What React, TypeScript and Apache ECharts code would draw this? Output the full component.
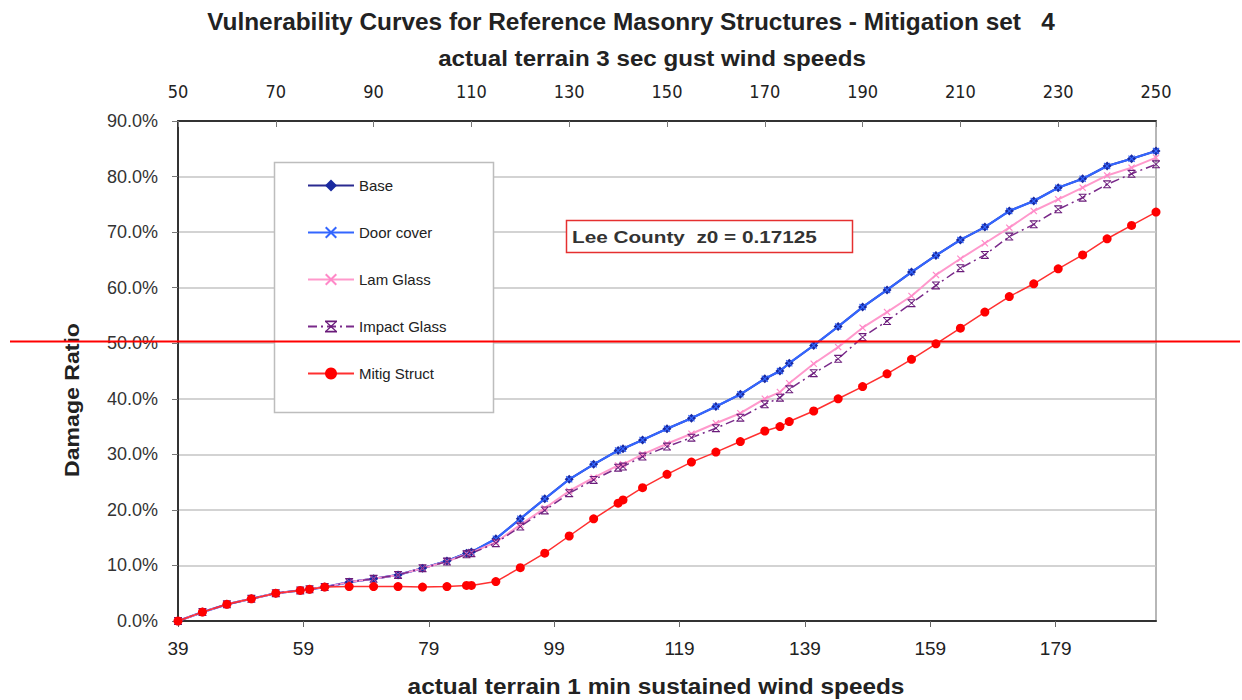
import React, { useEffect, useRef } from "react";
import * as echarts from "echarts";

// gust wind speeds (top axis) at which the curves were evaluated
const gustSpeeds = [50, 55, 60, 65, 70, 75, 76.9, 80, 85, 90, 95, 100, 105, 109, 110, 115, 120, 125, 130, 135, 140, 141, 145, 150, 155, 160, 165, 170, 173.1, 175, 180, 185, 190, 195, 200, 205, 210, 215, 220, 225, 230, 235, 240, 245, 250];

// damage ratio in %
const base = [0, 1.6, 3.0, 4.0, 5.0, 5.5, 5.7, 6.1, 7.0, 7.6, 8.3, 9.5, 10.8, 12.2, 12.4, 14.8, 18.4, 22.0, 25.5, 28.2, 30.7, 31.0, 32.6, 34.6, 36.5, 38.6, 40.8, 43.6, 45.0, 46.4, 49.6, 53.0, 56.5, 59.6, 62.8, 65.8, 68.6, 70.9, 73.8, 75.6, 78.0, 79.6, 81.9, 83.2, 84.6];
const doorCover = [0, 1.6, 3.0, 4.0, 5.0, 5.5, 5.7, 6.1, 7.0, 7.6, 8.3, 9.5, 10.8, 12.2, 12.4, 14.8, 18.4, 22.0, 25.5, 28.2, 30.7, 31.0, 32.6, 34.6, 36.5, 38.6, 40.8, 43.6, 45.0, 46.4, 49.6, 53.0, 56.5, 59.6, 62.8, 65.8, 68.6, 70.9, 73.8, 75.6, 78.0, 79.6, 81.9, 83.2, 84.6];
const lamGlass = [0, 1.6, 3.0, 4.0, 5.0, 5.5, 5.7, 6.1, 7.0, 7.6, 8.3, 9.5, 10.7, 12.1, 12.3, 14.2, 17.3, 20.3, 23.4, 25.8, 28.0, 28.2, 30.0, 31.9, 33.7, 35.6, 37.4, 40.0, 41.2, 42.8, 46.3, 49.3, 52.8, 55.6, 58.5, 62.3, 65.2, 68.0, 70.8, 73.8, 75.9, 78.0, 80.2, 81.6, 83.4];
const impactGlass = [0, 1.6, 3.0, 4.0, 5.0, 5.5, 5.7, 6.1, 7.0, 7.6, 8.3, 9.5, 10.7, 12.0, 12.2, 14.0, 17.0, 19.9, 23.0, 25.4, 27.6, 27.8, 29.6, 31.4, 33.0, 34.7, 36.6, 39.0, 40.2, 41.7, 44.6, 47.2, 51.1, 54.0, 57.2, 60.4, 63.5, 65.9, 69.2, 71.4, 74.1, 76.2, 78.6, 80.5, 82.2];
const mitigStruct = [0, 1.6, 3.0, 4.0, 5.0, 5.5, 5.7, 6.1, 6.2, 6.2, 6.2, 6.1, 6.2, 6.4, 6.4, 7.1, 9.6, 12.2, 15.3, 18.4, 21.2, 21.8, 24.0, 26.4, 28.6, 30.4, 32.3, 34.2, 35.0, 35.9, 37.8, 40.0, 42.2, 44.5, 47.1, 49.9, 52.7, 55.6, 58.4, 60.7, 63.4, 65.9, 68.8, 71.2, 73.6];

const seriesNames = ["Base", "Door cover", "Lam Glass", "Impact Glass", "Mitig Struct"];

// tick labels
const topTicks = [50, 70, 90, 110, 130, 150, 170, 190, 210, 230, 250];
const bottomTicks = [39, 59, 79, 99, 119, 139, 159, 179];

const titleText = "Vulnerability Curves for Reference Masonry Structures - Mitigation set   4";
const topAxisTitle = "actual terrain 3 sec gust wind speeds";
const bottomAxisTitle = "actual terrain 1 min sustained wind speeds";
const yAxisTitle = "Damage Ratio";
const noteText = "Lee County  z0 = 0.17125";

const NARROW = "'Liberation Sans Narrow', 'Arial Narrow', 'DejaVu Sans Condensed', sans-serif";
const ARIAL = "'Liberation Sans', Arial, Helvetica, sans-serif";

const X_PATH = "path://M0,1.2 L1.2,0 L5,3.8 L8.8,0 L10,1.2 L6.2,5 L10,8.8 L8.8,10 L5,6.2 L1.2,10 L0,8.8 L3.8,5 Z";
const XBAR_PATH = "path://M0,0 L10,0 L10,1.4 L0,1.4 Z M0,8.6 L10,8.6 L10,10 L0,10 Z M0.5,1.4 L1.9,1.4 L5,4.2 L8.1,1.4 L9.5,1.4 L5.8,5 L9.5,8.6 L8.1,8.6 L5,5.8 L1.9,8.6 L0.5,8.6 L4.2,5 Z";

function measure(text: string, size: number, weight: string): number {
  const ctx = document.createElement("canvas").getContext("2d");
  if (!ctx) return 1;
  ctx.font = `${weight} ${size}px 'Liberation Sans', Arial, sans-serif`;
  return ctx.measureText(text).width || 1;
}

function fittedText(text: string, x: number, y: number, size: number, weight: string, targetWidth: number, extra: any = {}) {
  const w = measure(text, size, weight);
  return {
    type: "text",
    x,
    y,
    scaleX: targetWidth / w,
    ...extra,
    style: {
      text,
      align: "center",
      verticalAlign: "middle",
      fontSize: size,
      fontWeight: weight,
      fontFamily: ARIAL,
      fill: "#222",
    },
  };
}

export default function App() {
  const ref = useRef<HTMLDivElement>(null);

  useEffect(() => {
    if (!ref.current) return;
    const chart = echarts.init(ref.current, null, { renderer: "svg" });
    const pts = (arr: number[]) => gustSpeeds.map((g, i) => [g, arr[i]]);

    const noteW = measure(noteText, 16, "bold");

    const option: any = {
      animation: false,
      backgroundColor: "#ffffff",
      grid: {
        left: 178,
        top: 121,
        width: 978,
        height: 500,
        show: true,
        borderColor: "#a0a0a0",
        borderWidth: 1.5,
        backgroundColor: "transparent",
      },
      legend: {
        data: seriesNames,
        orient: "vertical",
        left: 307,
        top: 178,
        padding: 0,
        itemGap: 32,
        itemWidth: 46,
        itemHeight: 15,
        z: 6,
        textStyle: { fontSize: 15, fontFamily: ARIAL, color: "#222", lineHeight: 15 },
      },
      xAxis: [
        {
          type: "value",
          position: "bottom",
          min: 39,
          max: 195,
          axisLine: { lineStyle: { color: "#333", width: 2 } },
          axisTick: { show: true, inside: false, length: 6, customValues: bottomTicks, lineStyle: { color: "#666" } },
          axisLabel: { customValues: bottomTicks, margin: 18, fontSize: 19, fontFamily: ARIAL, color: "#222" },
          splitLine: { show: false },
        },
        {
          type: "value",
          position: "top",
          min: 50,
          max: 250,
          axisLine: { lineStyle: { color: "#333", width: 2 } },
          axisTick: { show: true, inside: true, length: 6, customValues: topTicks, lineStyle: { color: "#777" } },
          axisLabel: { customValues: topTicks, margin: 21, fontSize: 18, fontFamily: NARROW, color: "#222" },
          splitLine: { show: false },
        },
      ],
      yAxis: {
        type: "value",
        min: 0,
        max: 90,
        interval: 10,
        axisLine: { show: true, lineStyle: { color: "#333", width: 2 } },
        axisTick: { show: true, inside: false, length: 6, lineStyle: { color: "#777" } },
        axisLabel: {
          margin: 20,
          fontSize: 18,
          fontFamily: ARIAL,
          color: "#333",
          formatter: (v: number) => v.toFixed(1) + "%",
        },
        splitLine: { show: true, lineStyle: { color: "#c4c4c4", width: 1.5 } },
      },
      series: [
        {
          name: "Base",
          type: "line",
          xAxisIndex: 1,
          data: pts(base),
          symbol: "diamond",
          symbolSize: 9,
          lineStyle: { color: "#2a2a90", width: 2 },
          itemStyle: { color: "#1a2aa0" },
        },
        {
          name: "Door cover",
          type: "line",
          xAxisIndex: 1,
          data: pts(doorCover),
          symbol: X_PATH,
          symbolSize: 7,
          lineStyle: { color: "#3366ff", width: 2.2 },
          itemStyle: { color: "#3366ff" },
        },
        {
          name: "Lam Glass",
          type: "line",
          xAxisIndex: 1,
          data: pts(lamGlass),
          symbol: X_PATH,
          symbolSize: 7,
          lineStyle: { color: "#ff99cc", width: 2 },
          itemStyle: { color: "#ff88c8" },
        },
        {
          name: "Impact Glass",
          type: "line",
          xAxisIndex: 1,
          data: pts(impactGlass),
          symbol: XBAR_PATH,
          symbolSize: 8,
          lineStyle: { color: "#7a2a8a", width: 1.5, type: [9, 4, 2, 4] },
          itemStyle: { color: "#6a1b7a" },
        },
        {
          name: "Mitig Struct",
          type: "line",
          xAxisIndex: 1,
          data: pts(mitigStruct),
          symbol: "circle",
          symbolSize: 9,
          lineStyle: { color: "#ff3030", width: 1.5 },
          itemStyle: { color: "#ff0000" },
        },
      ],
      graphic: [
        fittedText(titleText, 631, 22, 23, "bold", 848),
        fittedText(topAxisTitle, 652, 58, 22, "bold", 428),
        fittedText(bottomAxisTitle, 656, 686, 22, "bold", 497),
        fittedText(yAxisTitle, 72, 400, 20, "bold", 154, { rotation: Math.PI / 2 }),
        {
          type: "rect",
          z: 3,
          shape: { x: 274.5, y: 162.5, width: 219, height: 250 },
          style: { fill: "#ffffff", stroke: "#bdbdbd", lineWidth: 1.5 },
        },
        {
          type: "rect",
          z: 3,
          shape: { x: 566.5, y: 220.5, width: 286, height: 32 },
          style: { fill: "#ffffff", stroke: "#e53030", lineWidth: 1.5 },
        },
        {
          type: "text",
          z: 4,
          x: 572,
          y: 237,
          scaleX: 245 / noteW,
          style: { text: noteText, align: "left", verticalAlign: "middle", fontSize: 16, fontWeight: "bold", fontFamily: ARIAL, fill: "#333" },
        },
        {
          type: "line",
          z: 20,
          shape: { x1: 10, y1: 341.5, x2: 1240, y2: 341.5 },
          style: { stroke: "#ff0000", lineWidth: 2 },
        },
      ],
    };

    chart.setOption(option);
    return () => chart.dispose();
  }, []);

  return (
    <div
      ref={ref}
      style={{ position: "fixed", left: 0, top: 0, width: 1242, height: 700 }}
    />
  );
}
